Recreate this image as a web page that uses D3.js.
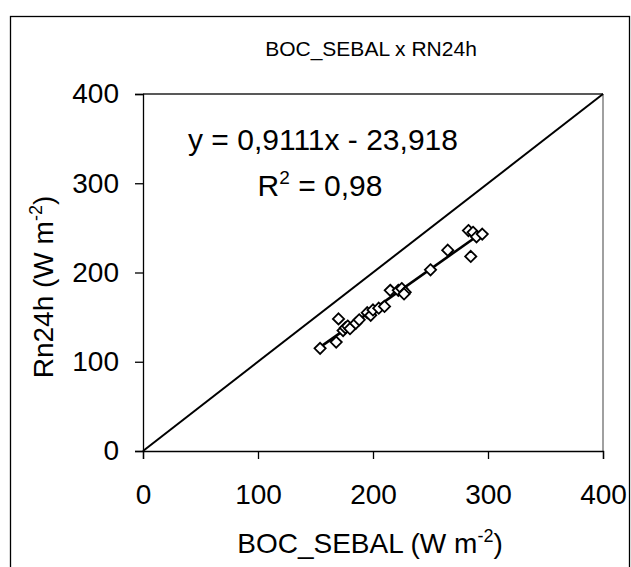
<!DOCTYPE html>
<html><head><meta charset="utf-8">
<script src="https://cdn.jsdelivr.net/npm/d3@7/dist/d3.min.js"></script>
<style>body{margin:0;background:#fff}svg{display:block;font-family:"Liberation Sans",Arial,sans-serif}</style>
</head><body>
<script>
const title = "BOC_SEBAL x RN24h";
const xTicks = [0, 100, 200, 300, 400];
const yTicks = [0, 100, 200, 300, 400];
const obsX = [154,168,170,174,176,178,180,185,188,195,198,200,205,210,215,222,225,228,227,250,265,283,287,285,290,295];
const obsY = [115,122,148,135,138,140,137,143,147,155,152,158,160,162,180,180,182,178,176,203,225,247,245,218,240,243];
const slope = 0.9111, intercept = -23.918;

const W = 631, H = 567;
const svg = d3.select("body").append("svg").attr("width", W).attr("height", H);
svg.append("rect").attr("x",10.5).attr("y",16.5).attr("width",619).attr("height",600)
  .attr("fill","#fff").attr("stroke","#000").attr("stroke-width",1.3);

const x = d3.scaleLinear().domain([0,400]).range([143,603]);
const y = d3.scaleLinear().domain([0,400]).range([451,94]);

// plot area border
svg.append("line").attr("x1",x(0)).attr("x2",x(400)).attr("y1",y(400)).attr("y2",y(400)).attr("stroke","#222").attr("stroke-width",1.3);
svg.append("line").attr("x1",x(400)).attr("x2",x(400)).attr("y1",y(400)).attr("y2",y(0)).attr("stroke","#808080").attr("stroke-width",1.5);

const xa = svg.append("g").attr("transform",`translate(0,${y(0)})`)
  .call(d3.axisBottom(x).tickValues(xTicks).tickSize(8).tickPadding(25).tickFormat(d3.format("d")));
const ya = svg.append("g").attr("transform",`translate(${x(0)},0)`)
  .call(d3.axisLeft(y).tickValues(yTicks).tickSize(8).tickPadding(16).tickFormat(d3.format("d")));
[xa, ya].forEach(a => {
  a.select(".domain").attr("stroke","#000").attr("stroke-width",1.3);
  a.selectAll(".tick line").attr("stroke","#000").attr("stroke-width",1.3);
  a.selectAll("text").attr("font-size",28).attr("fill","#000").attr("font-family","Liberation Sans, Arial, sans-serif");
});

// 1:1 line
svg.append("line").attr("x1",x(0)).attr("y1",y(0)).attr("x2",x(400)).attr("y2",y(400))
  .attr("stroke","#000").attr("stroke-width",2);

// regression line
const x0 = d3.min(obsX), x1 = d3.max(obsX);
svg.append("line").attr("x1",x(x0)).attr("y1",y(slope*x0+intercept)).attr("x2",x(x1)).attr("y2",y(slope*x1+intercept))
  .attr("stroke","#000").attr("stroke-width",2.6);

// markers
const sym = d3.symbol().type(d3.symbolDiamond2).size(80);
svg.append("g").selectAll("path").data(obsX.map((v,i)=>[v,obsY[i]])).join("path")
  .attr("d", sym).attr("transform", d=>`translate(${x(d[0])},${y(d[1])})`)
  .attr("fill","#fff").attr("stroke","#000").attr("stroke-width",1.8);

// title
svg.append("text").attr("x",371).attr("y",56).attr("text-anchor","middle").attr("font-size",21).text(title);

// equation
svg.append("text").attr("x",323).attr("y",150).attr("text-anchor","middle").attr("font-size",30)
  .text("y = 0,9111x - 23,918");
const r2 = svg.append("text").attr("x",320).attr("y",196).attr("text-anchor","middle").attr("font-size",30);
r2.append("tspan").text("R");
r2.append("tspan").attr("dy",-12).attr("font-size",19).text("2");
r2.append("tspan").attr("dy",12).text(" = 0,98");

// x axis title
const xt = svg.append("text").attr("x",370).attr("y",553).attr("text-anchor","middle").attr("font-size",28);
xt.append("tspan").text("BOC_SEBAL (W m");
xt.append("tspan").attr("dy",-11).attr("font-size",18).text("-2");
xt.append("tspan").attr("dy",11).text(")");

// y axis title
const yt = svg.append("text").attr("transform","translate(53,287) rotate(-90)").attr("text-anchor","middle").attr("font-size",28);
yt.append("tspan").text("Rn24h (W m");
yt.append("tspan").attr("dy",-11).attr("font-size",18).text("-2");
yt.append("tspan").attr("dy",11).text(")");
</script>
</body></html>
